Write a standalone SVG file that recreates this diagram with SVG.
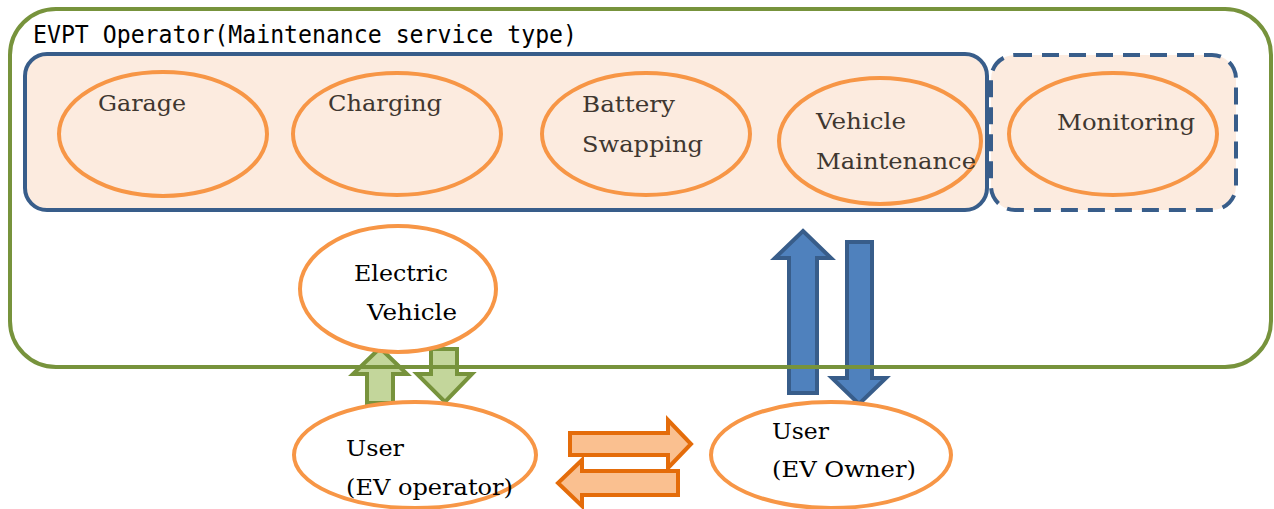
<svg xmlns="http://www.w3.org/2000/svg" width="1274" height="509" viewBox="0 0 1274 509">
<defs>
<style>
.ell{stroke:#F79646;stroke-width:4;}
.pe{fill:#FCEBDF;}
.wh{fill:#FFFFFF;}
.t1{font-family:"DejaVu Serif","Liberation Serif",serif;font-size:22px;fill:#3F3730;}
.t2{font-family:"DejaVu Serif","Liberation Serif",serif;font-size:22px;fill:#000000;}
.title{font-family:"DejaVu Sans Mono","Liberation Mono",monospace;font-size:25px;fill:#000;}
.garr{fill:#C3D69B;stroke:#77933C;stroke-width:4;}
.barr{fill:#4F81BD;stroke:#385D8A;stroke-width:4;}
.oarr{fill:#FAC090;stroke:#E46C0A;stroke-width:4;}
</style>
</defs>
<rect x="0" y="0" width="1274" height="509" fill="#FFFFFF"/>
<g id="operator-bg">
<rect x="10" y="9" width="1261" height="358" rx="46" ry="46" fill="#FFFFFF"/>
</g>
<g id="services-box">
<rect x="25" y="54" width="962" height="156" rx="22" ry="22" fill="#FCEBDF" stroke="#385D8A" stroke-width="4"/>
</g>
<g id="monitoring-box">
<rect x="991" y="55" width="245" height="155" rx="24" ry="24" fill="#FCEBDF" stroke="#385D8A" stroke-width="4" stroke-dasharray="17,10"/>
</g>
<g id="garage">
<ellipse class="ell pe" cx="163" cy="134" rx="104" ry="62"/>
<text class="t1" x="98" y="111" textLength="88" lengthAdjust="spacingAndGlyphs">Garage</text>
</g>
<g id="charging">
<ellipse class="ell pe" cx="397" cy="134" rx="104" ry="61"/>
<text class="t1" x="328" y="111" textLength="114" lengthAdjust="spacingAndGlyphs">Charging</text>
</g>
<g id="battery-swapping">
<ellipse class="ell pe" cx="646" cy="134" rx="104" ry="61"/>
<text class="t1" x="582" y="112" textLength="93" lengthAdjust="spacingAndGlyphs">Battery</text>
<text class="t1" x="582" y="152" textLength="121" lengthAdjust="spacingAndGlyphs">Swapping</text>
</g>
<g id="vehicle-maintenance">
<ellipse class="ell pe" cx="880" cy="141" rx="101" ry="63"/>
<text class="t1" x="816" y="129" textLength="90" lengthAdjust="spacingAndGlyphs">Vehicle</text>
<text class="t1" x="816" y="169" textLength="160" lengthAdjust="spacingAndGlyphs">Maintenance</text>
</g>
<g id="monitoring">
<ellipse class="ell pe" cx="1113" cy="134" rx="104" ry="61"/>
<text class="t1" x="1057" y="130" textLength="138" lengthAdjust="spacingAndGlyphs">Monitoring</text>
</g>
<g id="connectors">
<polygon class="garr" points="380,348 407,374 393,374 393,403 367,403 367,374 353,374"/>
<polygon class="garr" points="431,349 457,349 457,374 472,374 445,402 417,374 431,374"/>
<polygon class="barr" points="803,231 831,258 817,258 817,393 789,393 789,258 775,258"/>
<polygon class="barr" points="847,242 872,242 872,378 886,378 859,404 832,378 847,378"/>
<polygon class="oarr" points="570,433 668,433 668,420 691,444 668,468 668,455 570,455"/>
<polygon class="oarr" points="678,471 678,495 582,495 582,506 558,483 582,460 582,471"/>
</g>
<g id="electric-vehicle">
<ellipse class="ell wh" cx="398" cy="289" rx="98" ry="63"/>
<text class="t2" x="354" y="281" textLength="94" lengthAdjust="spacingAndGlyphs">Electric</text>
<text class="t2" x="367" y="320" textLength="90" lengthAdjust="spacingAndGlyphs">Vehicle</text>
</g>
<g id="operator-frame">
<rect x="10" y="9" width="1261" height="358" rx="46" ry="46" fill="none" stroke="#77933C" stroke-width="4"/>
<text class="title" x="33" y="43" textLength="544" lengthAdjust="spacingAndGlyphs">EVPT Operator(Maintenance service type)</text>
</g>
<g id="user-ev-operator">
<ellipse class="ell wh" cx="415" cy="455" rx="121" ry="53"/>
<text class="t2" x="346" y="456" textLength="58" lengthAdjust="spacingAndGlyphs">User</text>
<text class="t2" x="346" y="495" textLength="167" lengthAdjust="spacingAndGlyphs">(EV operator)</text>
</g>
<g id="user-ev-owner">
<ellipse class="ell wh" cx="831" cy="455" rx="120" ry="53"/>
<text class="t2" x="772" y="439" textLength="57" lengthAdjust="spacingAndGlyphs">User</text>
<text class="t2" x="772" y="477" textLength="144" lengthAdjust="spacingAndGlyphs">(EV Owner)</text>
</g>
</svg>
